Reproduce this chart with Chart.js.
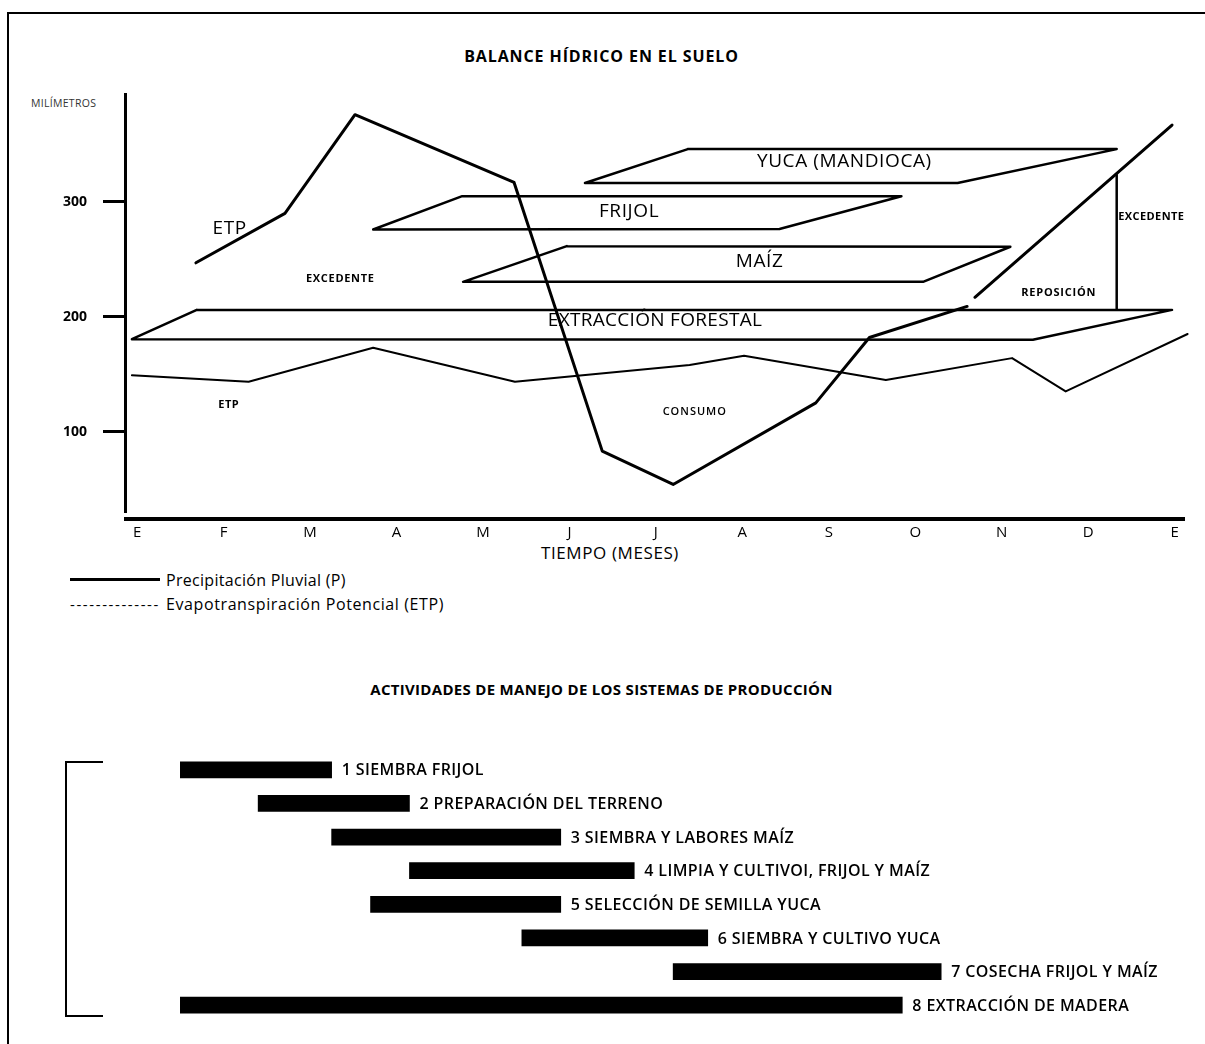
<!DOCTYPE html>
<html lang="es">
<head>
<meta charset="utf-8">
<title>Balance hídrico en el suelo</title>
<script src="https://cdn.jsdelivr.net/npm/chart.js@4.4.1/dist/chart.umd.min.js"></script>
<style>
  html, body { margin: 0; padding: 0; background: #fff; }
  body { width: 1205px; height: 1044px; position: relative; overflow: hidden; font-family: 'Open Sans', sans-serif; color: #000; }
  .marco { position: absolute; left: 7px; top: 12px; right: -2px; bottom: -2px; border-left: 2px solid #000; border-top: 2px solid #000; }
  .txt { position: absolute; white-space: nowrap; line-height: 20px; height: 20px; }
  .titulo { left: 0; width: 1203px; text-align: center; font-weight: 700; }
  canvas { position: absolute; left: 0; }
  #balance { top: 0; }
  #actividades { top: 740px; }
</style>
</head>
<body>
<div class="marco"></div>

<div class="txt titulo" style="top:46px; font-size:16px; letter-spacing:0.9px">BALANCE HÍDRICO EN EL SUELO</div>
<div class="txt" style="left:31px; top:93px; font-size:10.5px; letter-spacing:0.3px; color:#333">MILÍMETROS</div>
<div class="txt" style="left:541px; top:543px; font-size:17px; letter-spacing:0.6px">TIEMPO (MESES)</div>

<div style="position:absolute; left:70px; top:578px; width:90px; height:3px; background:#000"></div>
<div class="txt" style="left:166px; top:570px; font-size:16px; letter-spacing:0.3px">Precipitación Pluvial (P)</div>
<div class="txt" style="left:70px; top:594px; font-size:15px; letter-spacing:1.6px">--------------</div>
<div class="txt" style="left:166px; top:594px; font-size:16px; letter-spacing:0.6px">Evapotranspiración Potencial (ETP)</div>

<div class="txt titulo" style="top:679px; font-size:15px; letter-spacing:0.3px">ACTIVIDADES DE MANEJO DE LOS SISTEMAS DE PRODUCCIÓN</div>
<div style="position:absolute; left:65px; top:761px; width:36px; height:252px; border:2px solid #000; border-right:none"></div>

<canvas id="balance" width="1205" height="600"></canvas>
<canvas id="actividades" width="1205" height="304"></canvas>

<script>
// datos (x = meses desde enero, y = milímetros)
const meses = ['E', 'F', 'M', 'A', 'M', 'J', 'J', 'A', 'S', 'O', 'N', 'D', 'E'];
const ticksMm = [100, 200, 300];

const precipitacion = [[0.68, 247], [1.71, 290], [2.52, 376], [4.36, 317], [5.38, 83], [6.20, 54],
  [7.85, 125], [8.47, 182], [9.60, 209], [9.64, null], [9.69, 217], [11.97, 367]];
const etp = [[-0.06, 149], [1.29, 143.5], [2.73, 173], [4.37, 143.5], [6.39, 158], [7.02, 166],
  [8.66, 145], [10.12, 164], [10.74, 135], [12.15, 185]];

const yuca = [[6.37, 346], [11.33, 346], [9.49, 316.5], [5.18, 316.5], [6.37, 346]];
const frijol = [[3.76, 305], [8.84, 305], [7.43, 276.5], [2.73, 276], [3.76, 305]];
const maiz = [[4.97, 261.5], [10.10, 261], [9.09, 230.4], [3.77, 230.4], [4.97, 261.5]];
const forestal = [[0.69, 206], [11.97, 206], [10.36, 180], [-0.06, 180.5], [0.69, 206]];
const excedente = [[11.33, 323.5], [11.33, 207]];

const notas = [
  { texto: 'ETP', x: 1.07, y: 277, peso: 400, tam: 19, esp: 0.6 },
  { texto: 'EXCEDENTE', x: 2.35, y: 233, peso: 700, tam: 11, esp: 0.7 },
  { texto: 'ETP', x: 1.06, y: 123.5, peso: 700, tam: 11, esp: 0.5 },
  { texto: 'CONSUMO', x: 6.45, y: 117.4, peso: 600, tam: 11, esp: 1 },
  { texto: 'REPOSICIÓN', x: 10.66, y: 221, peso: 700, tam: 11, esp: 0.8 },
  { texto: 'EXCEDENTE', x: 11.73, y: 287, peso: 700, tam: 11, esp: 0.4 },
  { texto: 'YUCA (MANDIOCA)', x: 8.18, y: 335, peso: 400, tam: 19, esp: 0.6 },
  { texto: 'FRIJOL', x: 5.69, y: 292, peso: 400, tam: 19, esp: 0.6 },
  { texto: 'MAÍZ', x: 7.20, y: 248, peso: 400, tam: 19, esp: 0.6 },
  { texto: 'EXTRACCIÓN FORESTAL', x: 5.99, y: 196.5, peso: 400, tam: 19, esp: 0.3 }
];

const actividades = ['1 SIEMBRA FRIJOL', '2 PREPARACIÓN DEL TERRENO', '3 SIEMBRA Y LABORES MAÍZ',
  '4 LIMPIA Y CULTIVOI, FRIJOL Y MAÍZ', '5 SELECCIÓN DE SEMILLA YUCA', '6 SIEMBRA Y CULTIVO YUCA',
  '7 COSECHA FRIJOL Y MAÍZ', '8 EXTRACCIÓN DE MADERA'];
const inicioMes = [0.5, 1.4, 2.25, 3.15, 2.7, 4.45, 6.2, 0.5];
const finMes = [2.25, 3.15, 4.9, 5.75, 4.9, 6.6, 9.3, 8.85];

Chart.defaults.font.family = "'Open Sans', sans-serif";
Chart.defaults.color = '#000';
Chart.defaults.animation = false;

const X_MIN = -0.14, X_MAX = 12.12;

function serie(puntos, ancho) {
  return {
    data: puntos.map(p => ({ x: p[0], y: p[1] })),
    borderColor: '#000', borderWidth: ancho, pointRadius: 0, fill: false, tension: 0,
    spanGaps: false, clip: false, borderJoinStyle: 'round', borderCapStyle: 'round'
  };
}

const pluginNotas = {
  id: 'notasBalance',
  afterDatasetsDraw(chart) {
    const { ctx, chartArea, scales: { x, y } } = chart;
    ctx.save();
    // eje X separado del eje Y, como en el original
    ctx.strokeStyle = '#000';
    ctx.lineWidth = 4;
    ctx.beginPath();
    ctx.moveTo(chartArea.left - 1, chartArea.bottom + 7);
    ctx.lineTo(chartArea.right, chartArea.bottom + 7);
    ctx.stroke();

    ctx.fillStyle = '#000';
    ctx.textAlign = 'center';
    ctx.textBaseline = 'middle';
    notas.forEach(n => {
      ctx.font = n.peso + ' ' + n.tam + "px 'Open Sans', sans-serif";
      ctx.letterSpacing = n.esp + 'px';
      ctx.fillText(n.texto, x.getPixelForValue(n.x), y.getPixelForValue(n.y));
    });
    ctx.restore();
  }
};

new Chart(document.getElementById('balance'), {
  type: 'line',
  data: {
    datasets: [
      serie(forestal, 2.5), serie(maiz, 2.5), serie(frijol, 2.5), serie(yuca, 2.5),
      serie(excedente, 2.5), serie(etp, 2), serie(precipitacion, 3)
    ]
  },
  options: {
    responsive: false,
    layout: { padding: { top: 94, right: 20, bottom: 48, left: 0 } },
    plugins: { legend: { display: false }, tooltip: { enabled: false } },
    scales: {
      x: {
        type: 'linear', min: X_MIN, max: X_MAX,
        afterBuildTicks: s => { s.ticks = meses.map((m, i) => ({ value: i })); },
        afterFit: s => { s.height = 40; },
        grid: { display: false, drawTicks: false },
        border: { display: false },
        ticks: { callback: v => meses[v], autoSkip: false, maxRotation: 0, padding: 12, font: { size: 15 } }
      },
      y: {
        type: 'linear', min: 30, max: 394,
        afterBuildTicks: s => { s.ticks = ticksMm.map(v => ({ value: v })); },
        afterFit: s => { s.width = 125; },
        grid: { drawOnChartArea: false, drawTicks: true, tickLength: 22, tickWidth: 3, tickColor: '#000', color: '#000' },
        border: { display: true, width: 3, color: '#000' },
        ticks: { padding: 16, font: { size: 14, weight: 700 } }
      }
    }
  },
  plugins: [pluginNotas]
});

const pluginEtiquetas = {
  id: 'etiquetasBarras',
  afterDatasetsDraw(chart) {
    const { ctx } = chart;
    const meta = chart.getDatasetMeta(0);
    ctx.save();
    ctx.fillStyle = '#000';
    ctx.font = "600 16px 'Open Sans', sans-serif";
    ctx.letterSpacing = '0.4px';
    ctx.textAlign = 'left';
    ctx.textBaseline = 'middle';
    meta.data.forEach((barra, i) => {
      ctx.fillText(actividades[i], Math.max(barra.x, barra.base) + 10, barra.y + 1);
    });
    ctx.restore();
  }
};

new Chart(document.getElementById('actividades'), {
  type: 'bar',
  data: {
    labels: actividades,
    datasets: [{
      data: inicioMes.map((v, i) => [v, finMes[i]]),
      backgroundColor: '#000', borderWidth: 0, barThickness: 16
    }]
  },
  options: {
    responsive: false,
    indexAxis: 'y',
    layout: { padding: { top: 13, right: 20, bottom: 22, left: 125 } },
    plugins: { legend: { display: false }, tooltip: { enabled: false } },
    scales: {
      x: { type: 'linear', min: X_MIN, max: X_MAX, display: false },
      y: { type: 'category', display: false }
    }
  },
  plugins: [pluginEtiquetas]
});
</script>
</body>
</html>
